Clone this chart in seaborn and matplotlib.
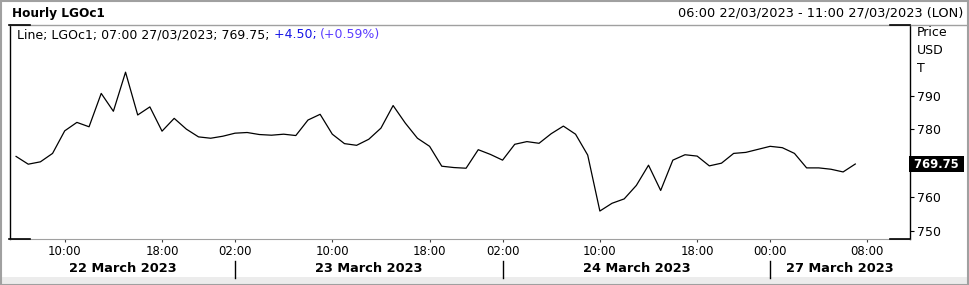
import numpy as np
import pandas as pd
import matplotlib
matplotlib.use("Agg")
import matplotlib.pyplot as plt
import matplotlib.transforms as mtransforms
from matplotlib.patches import Rectangle
from matplotlib.lines import Line2D
import seaborn as sns

# ---------------- data ----------------
# hourly slots of the chart's time axis (closed hours are skipped)
day_22 = [f"22/03 {h:02d}:00" for h in range(6, 23)]
day_23 = [f"23/03 {h:02d}:00" for h in range(1, 23)]
day_24 = [f"24/03 {h:02d}:00" for h in range(1, 23)]
day_27 = ["26/03 23:00"] + [f"27/03 {h:02d}:00" for h in range(0, 12)]
slots = day_22 + day_23 + day_24 + day_27

# hourly LGOc1 price (USD/T)
prices = [772.0, 769.7, 770.4, 772.9, 779.6, 782.1, 780.8, 790.7, 785.4, 797.0,
          784.3, 786.7, 779.5, 783.3, 780.1, 777.8, 777.4, 778.0,
          778.9, 779.1, 778.5, 778.3, 778.6, 778.2, 782.8, 784.5, 778.6, 775.8,
          775.3, 777.1, 780.4, 787.1, 781.9, 777.4, 775.0, 769.1,
          768.7, 768.5, 774.0, 772.6, 770.9, 775.6, 776.4, 775.9, 778.75, 781.0,
          778.6, 772.4, 755.8, 758.1, 759.4, 763.4, 769.4, 761.9, 770.9,
          772.5, 772.1, 769.2, 770.0, 772.9, 773.2, 774.1, 775.0, 774.6, 772.9,
          768.6, 768.6, 768.2, 767.4, 769.75]

tick_times = ["22/03 10:00", "22/03 18:00", "23/03 02:00", "23/03 10:00", "23/03 18:00",
              "24/03 02:00", "24/03 10:00", "24/03 18:00", "27/03 00:00", "27/03 08:00"]
day_labels = ["22 March 2023", "23 March 2023", "24 March 2023", "27 March 2023"]
day_start_ticks = ["23/03 02:00", "24/03 02:00", "27/03 00:00"]
y_ticks = [750, 760, 780, 790]
last_price = "769.75"
title = "Hourly LGOc1"
range_text = "06:00 22/03/2023 - 11:00 27/03/2023 (LON)"
legend_parts = ["Line; LGOc1; 07:00 27/03/2023; 769.75; ", "+4.50; ", "(+0.59%)"]
unit_labels = ["Price", "USD", "T"]

df = pd.DataFrame({"slot": slots[:len(prices)], "price": prices})
df["pos"] = [slots.index(s) for s in df["slot"]]

# ---------------- figure ----------------
plt.rcParams["font.family"] = ["DejaVu Sans"]
W, H = 969, 285
fig = plt.figure(figsize=(W / 100, H / 100), dpi=100)
fig.patch.set_facecolor("white")

def fx(px):
    return px / W

def fy(py):
    return 1 - py / H

ax = fig.add_axes([fx(10), fy(239), fx(900), 214 / H])
sns.lineplot(data=df, x="pos", y="price", ax=ax, color="black", linewidth=0.9)
ax.set_xlim(-0.5, len(slots) - 0.5)
ax.set_ylim(747.5, 811)
ax.set_xlabel("")
ax.set_ylabel("")

# spines
for s in ["left", "right"]:
    ax.spines[s].set_color("black")
    ax.spines[s].set_linewidth(1.0)
ax.spines["bottom"].set_color("#a0a0a0")
ax.spines["top"].set_visible(False)

# x ticks
tick_pos = [slots.index(t) for t in tick_times]
ax.set_xticks(tick_pos)
ax.set_xticklabels([t.split()[1] for t in tick_times])
ax.tick_params(axis="x", direction="out", length=2.5, width=0.8, color="#404040",
               labelsize=8.4, pad=2)

# y ticks on the right
ax.yaxis.tick_right()
ax.set_yticks(y_ticks)
ax.set_yticklabels([str(v) for v in y_ticks])
ax.tick_params(axis="y", direction="out", length=3.2, width=0.8, color="black",
               labelsize=9, pad=2, left=False, right=True,
               labelleft=False, labelright=True)

# last price box
trans_y = mtransforms.blended_transform_factory(ax.transAxes, ax.transData)
ax.text(1.0, float(last_price), " " + last_price + " ", transform=trans_y,
        ha="left", va="center", color="white", fontsize=8.4, fontweight="bold",
        bbox=dict(facecolor="black", edgecolor="none", boxstyle="square,pad=0.12"),
        clip_on=False)

# unit labels
for lab, py in zip(unit_labels, [33, 51, 69]):
    fig.text(fx(917), fy(py), lab, ha="left", va="center", fontsize=9)

# date labels and separators
trans_xf = mtransforms.blended_transform_factory(ax.transData, fig.transFigure)
sep_pos = [slots.index(t) for t in day_start_ticks]
bounds = [-0.5] + sep_pos + [len(slots) - 0.5]
for i, lab in enumerate(day_labels):
    cx = (bounds[i] + bounds[i + 1]) / 2
    fig.text(cx, fy(268), lab, transform=trans_xf, ha="center", va="center",
             fontsize=9.3, fontweight="bold")
for sp in sep_pos:
    fig.add_artist(Line2D([sp, sp], [fy(261), fy(278)], transform=trans_xf,
                          color="black", linewidth=1.0))

# header
fig.text(fx(12), fy(13.5), title, ha="left", va="center", fontsize=8.7,
         fontweight="bold")
fig.text(fx(963), fy(13.5), range_text, ha="right", va="center", fontsize=9.3)

# legend line with coloured parts
t0 = ax.text(fx(17) , fy(35), legend_parts[0], transform=fig.transFigure,
             ha="left", va="center", fontsize=9, color="black")
t1 = ax.annotate(legend_parts[1], xy=(1, 0), xycoords=t0, ha="left", va="bottom",
                 fontsize=9, color="#1414e6")
t2 = ax.annotate(legend_parts[2], xy=(1, 0), xycoords=t1, ha="left", va="bottom",
                 fontsize=9, color="#5a3cff")

# header separator and corner marks
fig.add_artist(Line2D([fx(9), fx(966)], [fy(25), fy(25)], color="#a0a0a0",
                      linewidth=1.0))
for (x0, x1, yy) in [(9, 30, 25), (9, 30, 239), (890, 910, 25), (890, 910, 239)]:
    fig.add_artist(Line2D([fx(x0), fx(x1)], [fy(yy), fy(yy)], color="black",
                          linewidth=1.2))

# bottom band and outer frame
fig.add_artist(Rectangle((0, 0), 1, 8 / H, transform=fig.transFigure,
                         facecolor="#ececec", edgecolor="none", zorder=0))
fig.add_artist(Rectangle((0.5 / W, 0.5 / H), 1 - 2 / W, 1 - 1.5 / H,
                         transform=fig.transFigure, facecolor="none",
                         edgecolor="#a0a0a0", linewidth=1.5))

fig.savefig("out.png", dpi=100)
